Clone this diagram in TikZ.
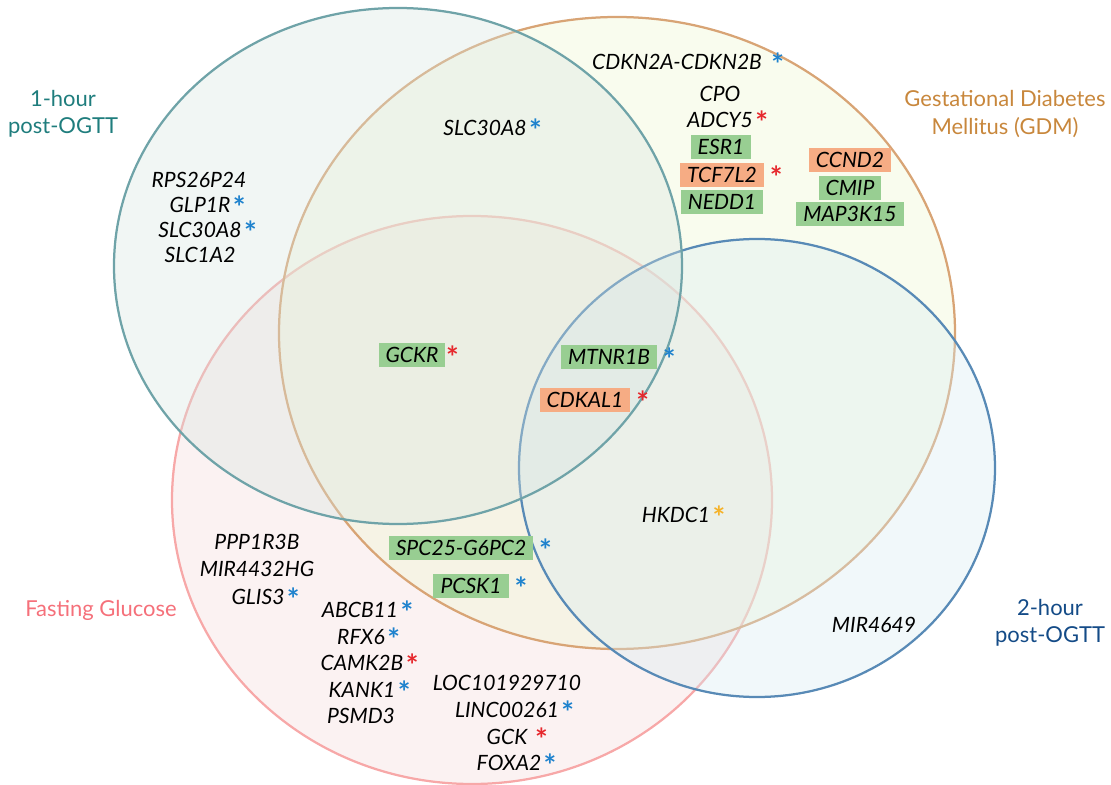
\documentclass[tikz,border=0pt]{standalone}
\usepackage{fontspec}
\setmainfont{Lato}
\definecolor{tealline}{RGB}{111,163,168}
\definecolor{tealfill}{RGB}{215,229,224}
\definecolor{tealtext}{RGB}{31,125,125}
\definecolor{orangeline}{RGB}{216,164,117}
\definecolor{orangefill}{RGB}{238,246,206}
\definecolor{orangetext}{RGB}{200,135,60}
\definecolor{pinkline}{RGB}{247,168,168}
\definecolor{pinkfill}{RGB}{244,218,218}
\definecolor{pinktext}{RGB}{245,112,122}
\definecolor{blueline}{RGB}{88,138,182}
\definecolor{bluefill}{RGB}{215,235,241}
\definecolor{bluetext}{RGB}{20,75,135}
\definecolor{boxgreen}{RGB}{152,206,146}
\definecolor{boxorange}{RGB}{246,172,132}
\definecolor{starblue}{RGB}{30,130,205}
\definecolor{starred}{RGB}{230,40,45}
\definecolor{staryellow}{RGB}{245,178,40}
\begin{document}
\begin{tikzpicture}[x=0.2mm,y=-0.2mm,
    vennset/.style ={line width=0.45mm, fill opacity=0.35},
    setname/.style ={font=\fontsize{12.5}{15.5}\selectfont, align=center},
    gene/.style ={font=\fontsize{12}{14}\selectfont\itshape, inner sep=0pt},
    gbox/.style ={gene, fill=boxgreen, inner xsep=4pt, inner ysep=2.5pt},
    obox/.style ={gene, fill=boxorange, inner xsep=4pt, inner ysep=2.5pt},
    ast/.style ={inner sep=0pt, anchor=west, yshift=-1.5pt, font=\fontsize{17}{17}\selectfont\bfseries},
    bst/.style ={label={[ast, text=starblue, xshift=#1]0:*}}, bst/.default=1pt,
    rst/.style ={label={[ast, text=starred, xshift=#1]0:*}}, rst/.default=1pt,
    yst/.style ={label={[ast, text=staryellow, xshift=#1]0:*}}, yst/.default=1pt]
   \useasboundingbox (0,0) rectangle (1111,785);
   % the four sets
   \coordinate (fg) at (472,500);
   \coordinate (gdmc) at (617,333);
   \coordinate (h2c) at (757,468);
   \coordinate (h1c) at (398,266);
   \draw[vennset, draw=pinkline, fill=pinkfill] (fg) ellipse [x radius=300, y radius=284];
   \draw[vennset, draw=orangeline, fill=orangefill] (gdmc) ellipse [x radius=338, y radius=316];
   \draw[vennset, draw=blueline, fill=bluefill] (h2c) ellipse [x radius=238, y radius=229];
   \draw[vennset, draw=tealline, fill=tealfill] (h1c) ellipse [x radius=284, y radius=258];
   % set names
   \node[setname, text=tealtext] (hour1) at (63,114) {1-hour\\post-OGTT};
   \node[setname, text=orangetext] (gdm) at (1005,114) {Gestational Diabetes\\Mellitus (GDM)};
   \node[setname, text=pinktext] (fasting) at (101,610) {Fasting Glucose};
   \node[setname, text=bluetext] (hour2) at (1050,623) {2-hour\\post-OGTT};
   % 1-hour only
   \node[gene] (rps) at (199,180) {RPS26P24};
   \node[gene, bst] (glp) at (200,205) {GLP1R};
   \node[gene, bst] (slcb) at (200,230) {SLC30A8};
   \node[gene] (slc1) at (200,255) {SLC1A2};
   % 1-hour and GDM
   \node[gene, bst] (slca) at (485,128) {SLC30A8};
   % GDM only
   \node[gene, bst=5pt] (cdkn) at (677,62) {CDKN2A-CDKN2B};
   \node[gene] (cpo) at (720,94) {CPO};
   \node[gene, rst] (adcy) at (720,120) {ADCY5};
   \node[gbox] (esr) at (721,147) {ESR1};
   \node[obox, rst=3pt] (tcf) at (722,175) {TCF7L2};
   \node[gbox] (nedd) at (722,202) {NEDD1};
   \node[obox] (ccnd) at (850,160) {CCND2};
   \node[gbox] (cmip) at (850,188) {CMIP};
   \node[gbox] (mapk) at (850,214) {MAP3K15};
   % 1-hour, GDM and fasting
   \node[gbox, rst=0pt] (gckr) at (412,355) {GCKR};
   % all four
   \node[gbox, bst=3pt] (mtnr) at (609,357) {MTNR1B};
   \node[obox, rst=3pt] (cdkal) at (585,400) {CDKAL1};
   % GDM, fasting and 2-hour
   \node[gene, yst] (hkdc) at (676,515) {HKDC1};
   % 2-hour only
   \node[gene] (mir46) at (874,625) {MIR4649};
   % GDM and fasting
   \node[gbox, bst=3pt] (spc) at (461,548) {SPC25-G6PC2};
   \node[gbox, bst=3pt] (pcsk) at (471,586) {PCSK1};
   % fasting only
   \node[gene] (ppp) at (257,542) {PPP1R3B};
   \node[gene] (mir44) at (257,569) {MIR4432HG};
   \node[gene, bst] (glis) at (258,597) {GLIS3};
   \node[gene, bst] (abcb) at (360,610) {ABCB11};
   \node[gene, bst] (rfx) at (361,637) {RFX6};
   \node[gene, rst] (camk) at (362,663) {CAMK2B};
   \node[gene, bst] (kank) at (362,690) {KANK1};
   \node[gene] (psmd) at (361,716) {PSMD3};
   \node[gene] (loc) at (507,683) {LOC101929710};
   \node[gene, bst] (linc) at (507,710) {LINC00261};
   \node[gene, rst=4pt] (gck) at (507,737) {GCK};
   \node[gene, bst] (foxa) at (509,763) {FOXA2};
\end{tikzpicture}
\end{document}
